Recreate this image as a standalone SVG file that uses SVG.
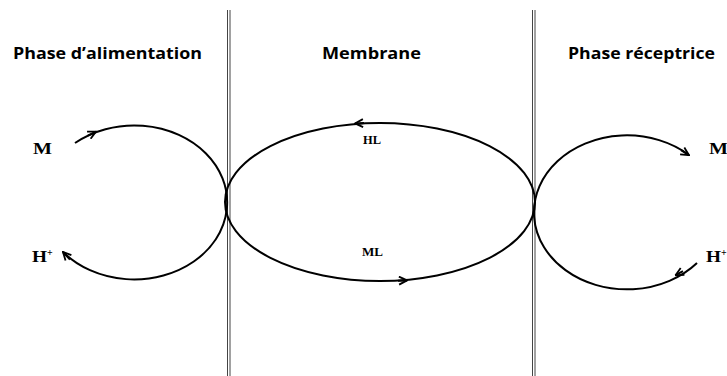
<svg xmlns="http://www.w3.org/2000/svg" width="727" height="376" viewBox="0 0 727 376">
  <style>
    .wall { stroke: #444; stroke-width: 1; fill: none; }
    .loop { stroke: #000; stroke-width: 2; fill: none; }
    .tip { stroke: #000; stroke-width: 2; fill: none; }
    .head { font-family: "Open Sans", "Liberation Sans", sans-serif; font-weight: bold; font-size: 16.5px; fill: #000; }
    .ion { font-family: "Liberation Serif", "DejaVu Serif", serif; font-weight: bold; font-size: 17px; fill: #000; }
    .sup { font-family: "Liberation Serif", "DejaVu Serif", serif; font-weight: bold; font-size: 10px; fill: #000; }
    .cx { font-family: "Liberation Serif", "DejaVu Serif", serif; font-weight: bold; font-size: 11.5px; fill: #000; }
  </style>
  <defs>
    <marker id="arrow" viewBox="0 0 10 10" refX="9" refY="5" markerWidth="10" markerHeight="10" markerUnits="userSpaceOnUse" orient="auto">
      <path d="M1,1 L9,5 L1,9" stroke="#000" stroke-width="1.8" fill="none"/>
    </marker>
  </defs>
  <rect width="727" height="376" fill="#fff"/>

  <!-- phase boundaries (double walls) -->
  <g id="walls">
    <line class="wall" x1="227.5" y1="10" x2="227.5" y2="376"/>
    <line class="wall" x1="230" y1="10" x2="230" y2="376"/>
    <line class="wall" x1="532.5" y1="10" x2="532.5" y2="376"/>
    <line class="wall" x1="535" y1="10" x2="535" y2="376"/>
  </g>

  <!-- section headings -->
  <g id="feed-phase">
    <text class="head" x="13" y="59" textLength="189" lengthAdjust="spacingAndGlyphs">Phase d’alimentation</text>
    <text class="ion" x="33" y="154" textLength="19" lengthAdjust="spacingAndGlyphs">M</text>
    <text class="ion" x="32" y="262" textLength="15" lengthAdjust="spacingAndGlyphs">H</text>
    <text class="sup" x="47" y="256">+</text>
  </g>
  <g id="membrane">
    <text class="head" x="322" y="59" textLength="99" lengthAdjust="spacingAndGlyphs">Membrane</text>
    <text class="cx" x="363" y="144" textLength="18" lengthAdjust="spacingAndGlyphs">HL</text>
    <text class="cx" x="362" y="256" textLength="21" lengthAdjust="spacingAndGlyphs">ML</text>
  </g>
  <g id="receiving-phase">
    <text class="head" x="568" y="59" textLength="147" lengthAdjust="spacingAndGlyphs">Phase réceptrice</text>
    <text class="ion" x="709" y="154" textLength="19" lengthAdjust="spacingAndGlyphs">M</text>
    <text class="ion" x="706" y="262" textLength="15" lengthAdjust="spacingAndGlyphs">H</text>
    <text class="sup" x="721" y="256">+</text>
  </g>

  <!-- transport cycles -->
  <g id="connectors">
    <!-- feed side loop -->
    <path class="loop" d="M75,143 A93,77 0 1 1 63,252"/>
    <path class="tip" d="M88,135.6 L96,131.6" marker-end="url(#arrow)"/>
    <path class="tip" d="M70,259.5 L63,252" marker-end="url(#arrow)"/>
    <!-- carrier cycle through the membrane -->
    <ellipse class="loop" cx="380" cy="202" rx="155" ry="79"/>
    <path class="tip" d="M364,123.1 L355,123.4" marker-end="url(#arrow)"/>
    <path class="tip" d="M398,280.7 L407,280.4" marker-end="url(#arrow)"/>
    <!-- receiving side loop -->
    <path class="loop" d="M697,263 A93,77 0 1 1 689,155"/>
    <path class="tip" d="M683,271.2 L675.5,275.2" marker-end="url(#arrow)"/>
    <path class="tip" d="M681,150.2 L689,155.2" marker-end="url(#arrow)"/>
  </g>
</svg>
